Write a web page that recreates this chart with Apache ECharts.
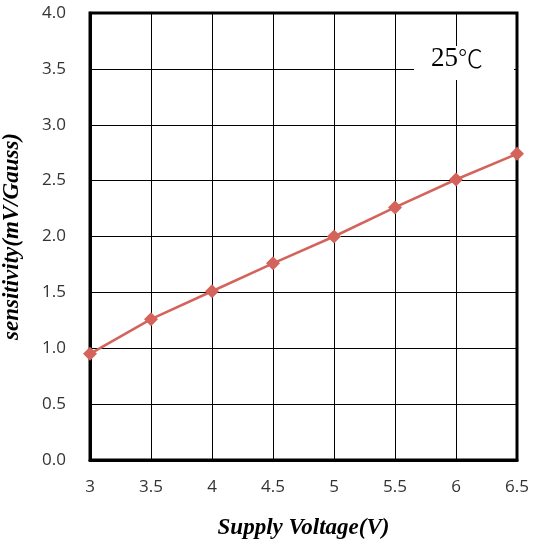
<!DOCTYPE html>
<html>
<head>
<meta charset="utf-8">
<script src="https://cdn.jsdelivr.net/npm/echarts@6/dist/echarts.min.js"></script>
<style>html,body{margin:0;padding:0;background:#fff;}#c{width:539px;height:545px;}</style>
</head>
<body>
<div id="c"></div>
<script>
var voltages = [3, 3.5, 4, 4.5, 5, 5.5, 6, 6.5];
var sensitivity = [0.95, 1.26, 1.51, 1.76, 2.0, 2.26, 2.51, 2.74];
var xTicks = { min: 3, max: 6.5, interval: 0.5 };
var yTicks = { min: 0, max: 4, interval: 0.5 };
var xName = 'Supply Voltage(V)';
var yName = 'sensitivity(mV/Gauss)';
var noteNum = '25';
var noteUnit = '\u2103';

var chart = echarts.init(document.getElementById('c'));
chart.setOption({
  animation: false,
  backgroundColor: '#fff',
  grid: { left: 90, right: 22, top: 13, bottom: 85, show: true, borderColor: '#000', borderWidth: 3, containLabel: false, outerBoundsMode: 'none' },
  xAxis: {
    type: 'value', min: xTicks.min, max: xTicks.max, interval: xTicks.interval,
    name: xName, nameLocation: 'middle', nameGap: 57,
    nameTextStyle: { fontFamily: 'Liberation Serif', fontWeight: 'bold', fontStyle: 'italic', fontSize: 23, color: '#000' },
    axisLine: { show: true, lineStyle: { color: '#000', width: 3 } },
    axisTick: { show: false },
    axisLabel: { color: '#333', fontSize: 17, fontFamily: 'Open Sans', margin: 19, formatter: function (v) { return String(v); } },
    splitLine: { show: true, lineStyle: { color: '#000', width: 1 } }
  },
  yAxis: {
    type: 'value', min: yTicks.min, max: yTicks.max, interval: yTicks.interval,
    name: yName, nameLocation: 'middle', nameGap: 66,
    nameTextStyle: { fontFamily: 'Liberation Serif', fontWeight: 'bold', fontStyle: 'italic', fontSize: 23, color: '#000' },
    axisLine: { show: true, lineStyle: { color: '#000', width: 3 } },
    axisTick: { show: false },
    axisLabel: { color: '#333', fontSize: 17, fontFamily: 'Open Sans', margin: 24, formatter: function (v) { return v.toFixed(1); } },
    splitLine: { show: true, lineStyle: { color: '#000', width: 1 } }
  },
  graphic: [
    { type: 'rect', left: 414, top: 46, shape: { width: 100, height: 34 }, style: { fill: '#fff' }, z: 5 },
    { type: 'text', left: 431, top: 45, style: {
        text: '{n|' + noteNum + '}{u|' + noteUnit + '}',
        rich: {
          n: { fontFamily: 'Liberation Serif', fontSize: 27, fill: '#000', color: '#000' },
          u: { fontFamily: 'Noto Sans CJK SC', fontSize: 25, fontWeight: 300, fill: '#000', color: '#000' }
        }
      }, z: 6 }
  ],
  series: [{
    type: 'line',
    data: voltages.map(function (v, i) { return [v, sensitivity[i]]; }),
    symbol: 'diamond', symbolSize: 14,
    lineStyle: { color: '#d4635b', width: 2.5 },
    itemStyle: { color: '#d4635b' },
    clip: false, z: 10
  }]
});
</script>
</body>
</html>
